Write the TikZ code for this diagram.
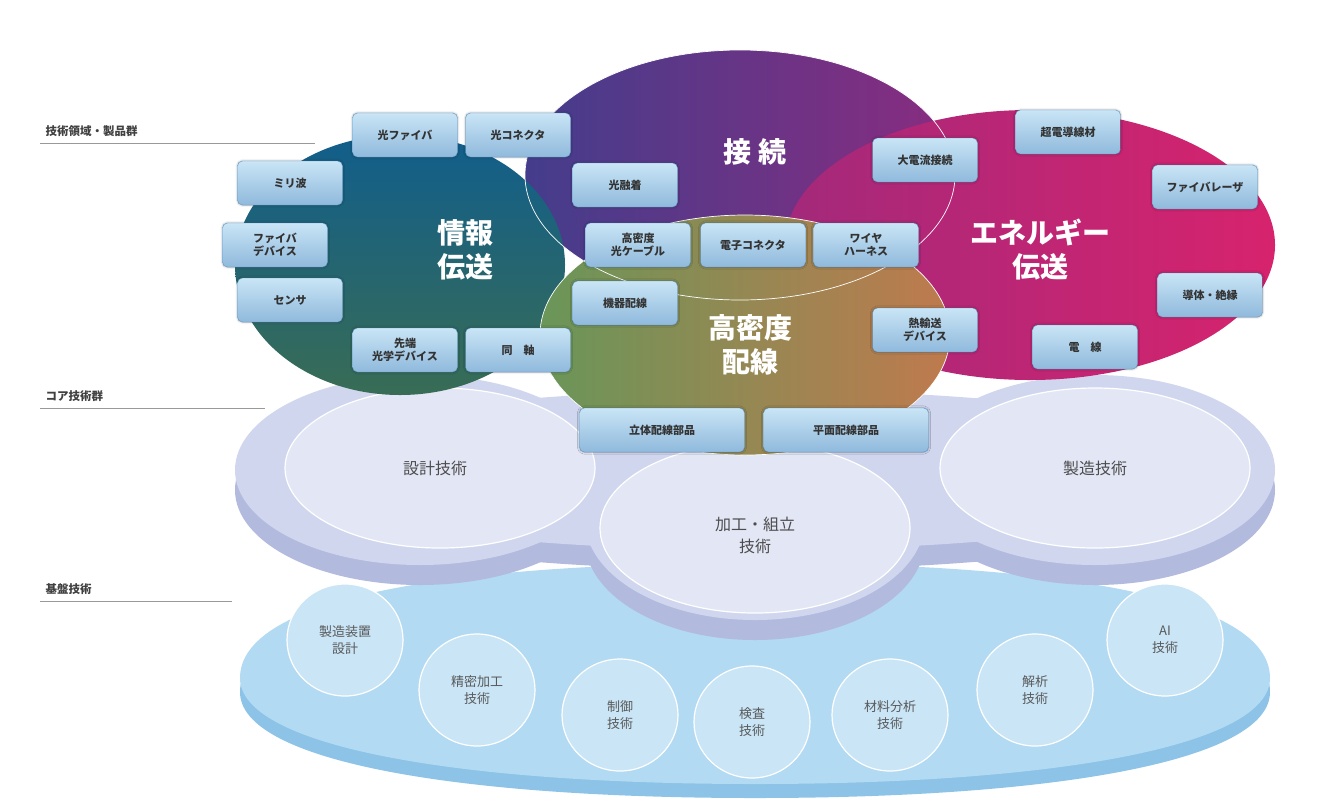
\documentclass[tikz,border=0pt]{standalone}
\usepackage{fontspec}
\setmainfont{Noto Sans CJK JP}
\usetikzlibrary{shadows.blur}
\definecolor{infoc}{RGB}{0,105,140}
\definecolor{connc}{RGB}{85,50,140}
\definecolor{enerc}{RGB}{215,35,110}
\definecolor{hdc}{RGB}{175,180,55}
\definecolor{corec}{RGB}{208,214,238}
\definecolor{coredark}{RGB}{178,186,222}
\definecolor{basec}{RGB}{178,218,242}
\definecolor{basedark}{RGB}{140,195,230}
\definecolor{boxline}{RGB}{95,155,205}
\tikzset{
  prodbox/.style={draw=boxline, rounded corners=5pt, top color=white!30!basec, bottom color=boxline!70,
    minimum width=105pt, minimum height=44pt, align=center, font=\fontsize{11}{12.5}\selectfont\bfseries,
    text=black!80, blur shadow={shadow blur steps=5, shadow xshift=0pt, shadow yshift=0pt, shadow opacity=40}},
  bigtext/.style={text=white, align=center, font=\fontsize{28}{34}\selectfont\bfseries},
  coretext/.style={align=center, text=black!70, font=\fontsize{16}{22}\selectfont},
  basetext/.style={align=center, text=black!65, font=\fontsize{13}{17}\selectfont},
  sidetext/.style={anchor=south west, text=black!75, font=\fontsize{11.5}{13}\selectfont\bfseries},
  sideline/.style={draw=black!40, line width=1pt},
  overlap/.style={draw=white!70, line width=0.7pt}
}
\begin{document}
\begin{tikzpicture}[x=1pt,y=-1pt]
\useasboundingbox (0,0) rectangle (1321,804);
% base layer
\fill[basedark] (240,692) .. controls (240,612) and (450,577) .. (755,577) .. controls (1060,577) and (1270,612) .. (1270,692)
  .. controls (1270,760) and (1060,798) .. (755,798) .. controls (450,798) and (240,760) .. (240,692);
\fill[basec] (240,678) .. controls (240,598) and (450,563) .. (755,563) .. controls (1060,563) and (1270,598) .. (1270,678)
  .. controls (1270,745) and (1060,784) .. (755,784) .. controls (450,784) and (240,745) .. (240,678);
\foreach \px/\py/\lbl/\nm in {345/640/{製造装置\\設計}/b1, 477/690/{精密加工\\技術}/b2, 620/715/{制御\\技術}/b3,
    752/722/{検査\\技術}/b4, 890/715/{材料分析\\技術}/b5, 1035/690/{解析\\技術}/b6, 1165/640/{AI\\技術}/b7}{
  \draw[draw=white, line width=1.2pt, fill=basec!70!white] (\px,\py) ellipse [x radius=58, y radius=56];
  \node[basetext] (\nm) at (\px,\py) {\lbl};
}
% core layer
\begin{scope}[yshift=-20pt]
\fill[coredark] (420,470) ellipse [x radius=185, y radius=95];
\fill[coredark] (1095,470) ellipse [x radius=180, y radius=95];
\fill[coredark] (755,520) ellipse [x radius=170, y radius=100];
\fill[coredark] (755,470) ellipse [x radius=500, y radius=80];
\end{scope}
\fill[corec] (420,470) ellipse [x radius=185, y radius=95];
\fill[corec] (1095,470) ellipse [x radius=180, y radius=95];
\fill[corec] (755,520) ellipse [x radius=170, y radius=100];
\fill[corec] (755,470) ellipse [x radius=500, y radius=80];
\draw[draw=white, line width=1.2pt, fill=corec!60!white] (440,468) ellipse [x radius=155, y radius=80];
\draw[draw=white, line width=1.2pt, fill=corec!60!white] (1095,468) ellipse [x radius=155, y radius=80];
\draw[draw=white, line width=1.2pt, fill=corec!60!white] (755,528) ellipse [x radius=155, y radius=85];
\node[coretext] (design) at (435,468) {設計技術};
\node[coretext] (manuf) at (1095,468) {製造技術};
\node[coretext] (proc) at (755,535) {加工・組立\\技術};
% product layer
\shade[left color=connc!80!infoc, right color=connc!60!enerc] (740,175) ellipse [x radius=215, y radius=125];
\shade[top color=enerc!60!connc, bottom color=enerc!70!black, right color=enerc] (1030,245) ellipse [x radius=245, y radius=135];
\shade[top color=infoc!80!connc, bottom color=infoc!60!hdc!80!black] (400,265) ellipse [x radius=165, y radius=130];
\shade[top color=hdc!50!connc, bottom color=hdc!80!yellow, left color=hdc!60!infoc, right color=hdc!60!enerc] (745,335) ellipse [x radius=205, y radius=120];
\draw[overlap] (740,175) ellipse [x radius=215, y radius=125];
\draw[overlap] (745,335) ellipse [x radius=205, y radius=120];
\node[bigtext] (info) at (465,250) {情報\\伝送};
\node[bigtext] (conn) at (755,152) {接 続};
\node[bigtext] (ener) at (1040,250) {エネルギー\\伝送};
\node[bigtext] (hd) at (750,345) {高密度\\配線};
\foreach \px/\py/\lbl/\nm in {405/135/光ファイバ/p1, 518/135/光コネクタ/p2, 290/183/ミリ波/p3, 625/185/光融着/p4,
    275/245/{ファイバ\\デバイス}/p5, 638/245/{高密度\\光ケーブル}/p6, 290/300/センサ/p7, 625/303/機器配線/p8,
    405/350/{先端\\光学デバイス}/p9, 518/350/{同\quad 軸}/p10, 753/245/電子コネクタ/p11, 866/245/{ワイヤ\\ハーネス}/p12,
    925/160/大電流接続/p13, 1068/132/超電導線材/p14, 1205/187/ファイバレーザ/p15, 1210/295/導体・絶縁/p16,
    925/330/{熱輸送\\デバイス}/p17, 1085/347/{電\quad 線}/p18}{
  \node[prodbox] (\nm) at (\px,\py) {\lbl};
}
\node[prodbox, minimum width=165pt] (p19) at (662,430) {立体配線部品};
\node[prodbox, minimum width=165pt] (p20) at (846,430) {平面配線部品};
% side labels
\node[sidetext] (l1) at (42,140) {技術領域・製品群};
\draw[sideline] (40,143) -- (315,143);
\node[sidetext] (l2) at (42,405) {コア技術群};
\draw[sideline] (40,408) -- (265,408);
\node[sidetext] (l3) at (42,598) {基盤技術};
\draw[sideline] (40,601) -- (232,601);
\end{tikzpicture}
\end{document}
